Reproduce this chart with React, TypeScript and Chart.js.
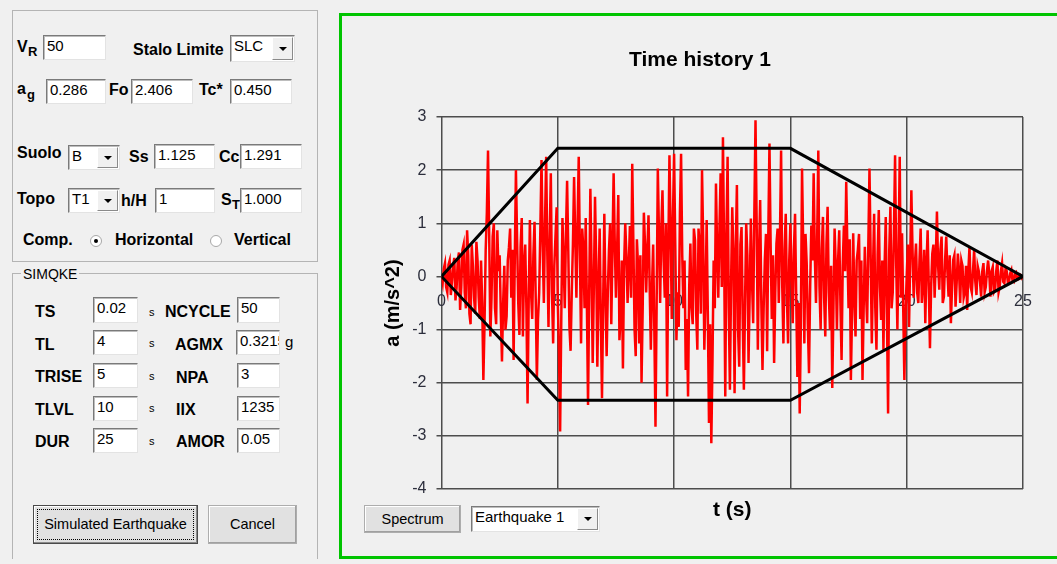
import React, { useEffect, useRef } from "react";
import { Chart, registerables } from "chart.js";

Chart.register(...registerables);

const FONT = "'Liberation Sans', Arial, Helvetica, sans-serif";

// ---- data ----
const TIME_STEP = 0.05; // s between samples
// one row per second of record (20 samples each)
const accel: number[] = [
  0, -0.12, 0.15, 0.25, -0.2, -0.3, 0.22, 0.3, -0.35, -0.1, 0.2, 0.35, -0.45, -0.2, 0.3, 0.45, -0.63, -0.2, 0.5, 0.6,
  -0.3, -0.6, 0.87, 0.4, -0.7, -0.9, 0.6, 0.2, -0.4, -0.7, 0.65, 0.3, -0.4, -0.8, 0.3, -0.5, -1.95, -0.9, 0.5, 1.2,
  2.37, 0.8, -1.13, -0.4, 0.75, 1.0, -0.6, -0.9, 0.87, 0.1, 0.4, -0.7, -1.6, -0.5, 0.2, -1.0, -0.75, 0.3, 0.55, 0.9,
  -0.4, 0.5, -1.57, 0.3, 2.0, 0.7, -0.5, -1.1, 0.56, 1.1, -1.13, 0.2, 0.6, -0.6, -2.39, -0.4, 1.06, -0.3, -0.8, 0.4,
  1.03, -0.4, -1.95, -0.8, -0.3, 0.9, 2.19, 0.6, -0.5, 1.0, 2.25, 0.4, -0.95, 0.7, 1.94, -0.3, -1.26, 0.2, 0.75, 1.3,
  -0.5, -1.4, -2.92, -0.8, 1.1, 0.3, -0.6, 0.8, 1.8, 0.5, -0.95, -1.4, -0.3, 0.6, 1.87, 0.7, -0.4, 1.0, 2.25, 0.4,
  -1.26, 0.9, 0.5, -0.6, 1.1, -0.5, -2.42, -0.3, 1.65, 0.2, -1.63, -0.2, 1.5, 0.3, -1.7, -0.2, 0.9, -0.8, -2.29, -0.5,
  1.18, -0.4, -1.5, -0.3, 0.5, 1.0, -0.9, 0.5, 1.94, 0.6, -0.4, 0.5, 1.53, -1.2, -0.75, 0.3, -1.73, 0.2, 1.0, 0.4,
  -0.5, 0.2, 0.95, -0.4, 2.12, 0.6, -1.0, -1.5, 0.7, 0.2, -1.26, 0.4, -2.0, -0.6, 1.2, 0.6, -0.3, 0.5, 1.15, -0.2,
  -1.38, -0.2, 0.6, -1.0, -2.83, -0.5, 2.03, 0.8, -0.5, 0.9, 1.62, 0.3, -0.4, 1.0, -2.26, 0.4, 2.28, 0.9, -0.8, 1.1,
  2.31, 0.6, -1.2, -0.3, -0.95, 1.2, 2.31, 0.4, -0.6, 0.3, -1.76, -0.8, -2.26, -0.2, 0.62, -0.6, -0.9, 0.9, 0.68, -0.7,
  -1.38, 0.9, 0.56, -0.7, 2.0, 0.7, -1.38, -0.4, 1.06, -0.7, -2.76, -0.9, -3.14, -1.6, 0.3, -0.6, 1.75, 0.5, -0.4, 0.9,
  1.94, -0.2, 2.62, 0.5, -2.26, 0.8, 2.25, -0.6, -2.13, -0.1, 1.3, 0.4, -2.2, 0.5, 1.72, -1.0, -1.7, 0.6, 0.93, -0.8,
  -2.13, -0.5, 1.0, 0.4, -1.63, -0.3, 1.09, -0.1, -0.88, 1.2, 2.94, 1.0, -1.38, 0.4, 1.44, -0.5, -1.76, -0.6, 0.3, 0.8,
  -1.41, 0.8, 2.5, 0.6, -0.8, 0.4, -1.63, -0.3, 0.62, 0.9, -0.5, 0.7, 2.37, -0.2, -1.26, 0.5, 1.18, -0.4, -1.26, 0.3,
  1.0, -0.1, -0.88, 0.5, 1.18, -0.4, -1.89, -0.5, -2.58, -0.9, 2.03, 0.6, -1.26, 0.8, 0.25, -0.9, -1.82, -0.2, 0.96, 0.3,
  1.94, 0.4, -0.5, 0.7, 2.37, -0.2, -1.0, 0.5, 1.12, -0.4, -1.13, 0.6, 1.31, -0.3, -1.0, 0.2, -2.1, -0.6, 0.9, 0.2,
  -1.0, 0.3, 0.87, -0.5, -1.57, 0.2, 0.96, 0.1, 1.78, 0.5, -0.6, 0.7, -1.95, -0.7, 0.81, -0.4, -1.13, 0.3, 0.5, 0.8,
  -0.8, 0.3, -1.95, -0.6, 0.56, -0.3, -0.88, 0.6, 2.03, 0.4, -1.26, 0.1, 1.18, -0.6, -1.38, 0.4, 1.25, -0.2, -0.82, 0.3,
  -1.38, 0.2, 1.12, -0.7, -2.58, 0.5, 1.31, -0.6, -0.3, 0.8, 2.28, 0.2, -1.0, 0.5, 2.25, -0.4, 0.81, -0.6, -1.95, -0.7,
  0, 0.6, -0.95, 0.3, 1.62, 0.5, -0.4, 0.2, 0.62, -0.3, -0.5, 0.3, 0.9, -0.5, -0.13, 0.5, -0.88, 0.2, 0.87, -0.2,
  -1.35, -0.2, 0.43, 0.6, -0.4, 0.3, 1.22, 0.2, -0.25, 0.5, 0.75, -0.5, -0.38, 0.3, 0.75, 0.1, -0.38, 0.4, -0.88, -0.2,
  0.31, 0.4, -0.57, -0.1, 0.43, 0.1, -0.5, 0.3, 0.2, -0.4, -0.3, 0.2, -0.63, 0.1, 0.56, -0.2, -0.3, 0.1, 0.5, -0.1,
  -0.35, 0.2, 0.1, -0.1, -0.38, 0.1, 0.25, -0.3, -0.2, 0.1, 0.3, 0.05, -0.38, 0.1, 0.18, -0.3, -0.26, 0.1, 0.3, -0.3,
  -0.19, 0.1, 0.25, -0.1, -0.13, 0.15, 0.1, -0.12, -0.1, 0.06, 0.12, -0.08, -0.1, 0.06, 0.08, -0.06, -0.05, 0.04, 0.03, -0.03,
  0,
];
const envTimes = [0, 5, 15, 25];
const envUpper = [0, 2.41, 2.41, 0];
const envLower = [0, -2.33, -2.33, 0];
const xTickLabels = [0, 5, 10, 15, 20, 25];
const Y_MIN = -4;
const Y_MAX = 3;
const X_MIN = 0;
const X_MAX = 25;

const GRID = "#4d4d4d";

function TimeHistoryChart() {
  const ref = useRef<HTMLCanvasElement>(null);
  useEffect(() => {
    const canvas = ref.current;
    if (!canvas) return;
    Chart.defaults.font.family = FONT;
    const signal = accel.map((a, i) => ({ x: Math.round(i * TIME_STEP * 100) / 100, y: a }));
    const upper = envTimes.map((t, i) => ({ x: t, y: envUpper[i] }));
    const lower = envTimes.map((t, i) => ({ x: t, y: envLower[i] }));
    const zeroAxisTicks = {
      id: "zeroAxisTicks",
      beforeDatasetsDraw(chart: any) {
        const { ctx, scales } = chart;
        const y0 = scales.y.getPixelForValue(0);
        ctx.save();
        ctx.font = `16px ${FONT}`;
        ctx.fillStyle = "#2c2e3c";
        ctx.textAlign = "center";
        ctx.textBaseline = "middle";
        xTickLabels.forEach((v) => ctx.fillText(String(v), scales.x.getPixelForValue(v), y0 + 25));
        ctx.restore();
      },
    };
    const chart = new Chart(canvas, {
      type: "line",
      data: {
        datasets: [
          { data: upper, borderColor: "#000", borderWidth: 3, pointRadius: 0, tension: 0 },
          { data: lower, borderColor: "#000", borderWidth: 3, pointRadius: 0, tension: 0 },
          { data: signal, borderColor: "#ff0000", borderWidth: 2.5, pointRadius: 0, tension: 0 },
        ],
      },
      options: {
        animation: false,
        responsive: false,
        events: [],
        layout: { padding: { left: 35, right: 35, top: 0, bottom: 0 } },
        plugins: {
          legend: { display: false },
          tooltip: { enabled: false },
          title: {
            display: true,
            text: "Time history 1",
            color: "#000",
            font: { size: 21, weight: "bold" },
            padding: { top: 31.4, bottom: 44.4 },
          },
        },
        scales: {
          x: {
            type: "linear",
            min: X_MIN,
            max: X_MAX,
            ticks: { display: false, stepSize: 5 },
            grid: { color: GRID, lineWidth: 1.5, drawTicks: false },
            border: { display: false },
            title: {
              display: true,
              text: "t (s)",
              color: "#000",
              font: { size: 21, weight: "bold" },
              padding: { top: 0, bottom: 33.4 },
            },
            afterFit: (s: any) => {
              s.height = 67;
            },
          },
          y: {
            type: "linear",
            min: Y_MIN,
            max: Y_MAX,
            ticks: { stepSize: 1, color: "#2c2e3c", font: { size: 16 }, padding: 10 },
            grid: { color: GRID, lineWidth: 1.5, tickLength: 5 },
            border: { display: false },
            title: {
              display: true,
              text: "a (m/s^2)",
              color: "#000",
              font: { size: 20, weight: "bold" },
              padding: { top: 4, bottom: 0 },
            },
            afterFit: (s: any) => {
              s.width = 64.5;
            },
          },
        },
      },
      plugins: [zeroAxisTicks],
    } as any);
    return () => chart.destroy();
  }, []);
  return (
    <canvas
      ref={ref}
      width={716}
      height={540}
      style={{ position: "absolute", left: 342, top: 16, width: 716, height: 540 }}
    />
  );
}

function Txt({ x, y, text, size = 16, bold = true }: any) {
  return (
    <div
      style={{
        position: "absolute",
        left: x,
        top: y - 10,
        height: 20,
        lineHeight: "20px",
        fontSize: size,
        fontWeight: bold ? 700 : 400,
        whiteSpace: "nowrap",
        color: "#000",
      }}
    >
      {text}
    </div>
  );
}

const fieldStyle = (x: number, y: number, w: number, h: number): React.CSSProperties => ({
  position: "absolute",
  left: x,
  top: y,
  width: w,
  height: h,
  boxSizing: "border-box",
  background: "#fff",
  borderStyle: "solid",
  borderWidth: 1,
  borderColor: "#7a7a7a #e3e3e3 #e3e3e3 #7a7a7a",
  boxShadow: "inset 1px 1px 0 #bdbdbd",
  fontSize: 15,
  lineHeight: "18px",
  padding: "1px 0 0 3px",
  overflow: "hidden",
  whiteSpace: "nowrap",
  color: "#000",
});

function Field({ x, y, w, h, text }: any) {
  return <div style={fieldStyle(x, y, w, h)}>{text}</div>;
}

function Combo({ x, y, w, h, text, btn = 21 }: any) {
  return (
    <div style={fieldStyle(x, y, w, h)}>
      {text}
      <div
        style={{
          position: "absolute",
          right: 1,
          top: 1,
          bottom: 1,
          width: btn,
          boxSizing: "border-box",
          background: "#f0f0f0",
          borderStyle: "solid",
          borderWidth: 1,
          borderColor: "#ffffff #8a8a8a #8a8a8a #ffffff",
        }}
      >
        <div
          style={{
            position: "absolute",
            left: "50%",
            top: "50%",
            marginLeft: -4,
            marginTop: -2,
            width: 0,
            height: 0,
            borderLeft: "4px solid transparent",
            borderRight: "4px solid transparent",
            borderTop: "4px solid #000",
          }}
        />
      </div>
    </div>
  );
}

function Radio({ cx, cy, checked }: any) {
  return (
    <div
      style={{
        position: "absolute",
        left: cx - 6,
        top: cy - 6,
        width: 12,
        height: 12,
        boxSizing: "border-box",
        borderRadius: "50%",
        border: "1px solid #a8a8a8",
        background: "#fff",
      }}
    >
      {checked && (
        <div
          style={{
            position: "absolute",
            left: 3,
            top: 3,
            width: 4,
            height: 4,
            borderRadius: "50%",
            background: "#000",
          }}
        />
      )}
    </div>
  );
}

function Btn({ x, y, w, h, text, focused = false }: any) {
  return (
    <div
      style={{
        position: "absolute",
        left: x,
        top: y,
        width: w,
        height: h,
        boxSizing: "border-box",
        background: "#e1e1e1",
        border: focused ? "1px solid #4a4a4a" : "1px solid #adadad",
        boxShadow: focused ? "inset -1px -1px 0 #8a8a8a, inset 1px 1px 0 #fff" : "inset -1px -1px 0 #a0a0a0, inset 1px 1px 0 #fff",
        fontSize: 14.5,
        lineHeight: `${h - 2}px`,
        textAlign: "center",
        whiteSpace: "nowrap",
        color: "#000",
      }}
    >
      {focused && (
        <div
          style={{
            position: "absolute",
            left: 3,
            top: 3,
            right: 3,
            bottom: 3,
            border: "1px dotted #000",
          }}
        />
      )}
      {text}
    </div>
  );
}

export default function App() {
  return (
    <div
      style={{
        position: "absolute",
        left: 0,
        top: 0,
        width: 1057,
        height: 564,
        overflow: "hidden",
        background: "#f0f0f0",
        fontFamily: FONT,
      }}
    >
      {/* group 1 */}
      <div
        style={{
          position: "absolute",
          left: 12,
          top: 10,
          width: 306,
          height: 252,
          boxSizing: "border-box",
          border: "1px solid #b4b4b4",
        }}
      />
      <Txt x={17} y={47} text="V" />
      <Txt x={28} y={52} text="R" size={13} />
      <Field x={43} y={35} w={63} h={25} text="50" />
      <Txt x={133} y={50} text="Stalo Limite" />
      <Combo x={230} y={35} w={65} h={27} text="SLC" />

      <Txt x={17} y={89} text="a" />
      <Txt x={27} y={95} text="g" size={13} />
      <Field x={46} y={79} w={60} h={25} text="0.286" />
      <Txt x={109} y={90} text="Fo" />
      <Field x={131} y={79} w={62} h={25} text="2.406" />
      <Txt x={199} y={90} text="Tc*" />
      <Field x={230} y={79} w={62} h={25} text="0.450" />

      <Txt x={17} y={153} text="Suolo" />
      <Combo x={68} y={145} w={52} h={25} text="B" />
      <Txt x={129} y={157} text="Ss" />
      <Field x={154} y={144} w={61} h={25} text="1.125" />
      <Txt x={219} y={157} text="Cc" />
      <Field x={240} y={144} w={62} h={25} text="1.291" />

      <Txt x={17} y={199} text="Topo" />
      <Combo x={68} y={188} w={52} h={25} text="T1" />
      <Txt x={121} y={201} text="h/H" />
      <Field x={155} y={188} w={60} h={25} text="1" />
      <Txt x={221} y={200} text="S" />
      <Txt x={232} y={205} text="T" size={13} />
      <Field x={240} y={188} w={62} h={25} text="1.000" />

      <Txt x={23} y={240} text="Comp." />
      <Radio cx={96} cy={241} checked />
      <Txt x={115} y={240} text="Horizontal" />
      <Radio cx={216} cy={241} />
      <Txt x={234} y={240} text="Vertical" />

      {/* group 2: SIMQKE */}
      <div
        style={{
          position: "absolute",
          left: 12,
          top: 273,
          width: 306,
          height: 286,
          boxSizing: "border-box",
          borderLeft: "1px solid #b4b4b4",
          borderRight: "1px solid #b4b4b4",
          borderTop: "1px solid #b4b4b4",
        }}
      />
      <div
        style={{
          position: "absolute",
          left: 21,
          top: 265,
          padding: "0 2px",
          background: "#f0f0f0",
          fontSize: 14,
          lineHeight: "18px",
          color: "#000",
        }}
      >
        SIMQKE
      </div>

      <Txt x={35} y={312} text="TS" />
      <Field x={93} y={297} w={45} h={26} text="0.02" />
      <Txt x={149} y={312} text="s" size={11} bold={false} />
      <Txt x={165} y={312} text="NCYCLE" />
      <Field x={237} y={297} w={43} h={26} text="50" />

      <Txt x={35} y={345} text="TL" />
      <Field x={93} y={330} w={45} h={25} text="4" />
      <Txt x={149} y={343} text="s" size={11} bold={false} />
      <Txt x={175} y={345} text="AGMX" />
      <Field x={236} y={330} w={44} h={25} text="0.3215" />
      <Txt x={285} y={342} text="g" size={15} bold={false} />

      <Txt x={35} y={377} text="TRISE" />
      <Field x={93} y={363} w={45} h={25} text="5" />
      <Txt x={149} y={376} text="s" size={11} bold={false} />
      <Txt x={176} y={378} text="NPA" />
      <Field x={237} y={363} w={43} h={25} text="3" />

      <Txt x={35} y={410} text="TLVL" />
      <Field x={93} y={396} w={45} h={25} text="10" />
      <Txt x={149} y={408} text="s" size={11} bold={false} />
      <Txt x={176} y={410} text="IIX" />
      <Field x={237} y={396} w={43} h={25} text="1235" />

      <Txt x={35} y={442} text="DUR" />
      <Field x={93} y={428} w={45} h={25} text="25" />
      <Txt x={149} y={441} text="s" size={11} bold={false} />
      <Txt x={176} y={442} text="AMOR" />
      <Field x={237} y={428} w={43} h={25} text="0.05" />

      <Btn x={33} y={505} w={165} h={39} text="Simulated Earthquake" focused />
      <Btn x={208} y={505} w={89} h={39} text="Cancel" />

      {/* chart frame */}
      <div
        style={{
          position: "absolute",
          left: 339,
          top: 13,
          width: 730,
          height: 546,
          boxSizing: "border-box",
          border: "3px solid #00c400",
        }}
      />
      <TimeHistoryChart />
      <Btn x={364} y={505} w={97} h={28} text="Spectrum" />
      <Combo x={471} y={506} w={129} h={26} text="Earthquake 1" />
    </div>
  );
}
